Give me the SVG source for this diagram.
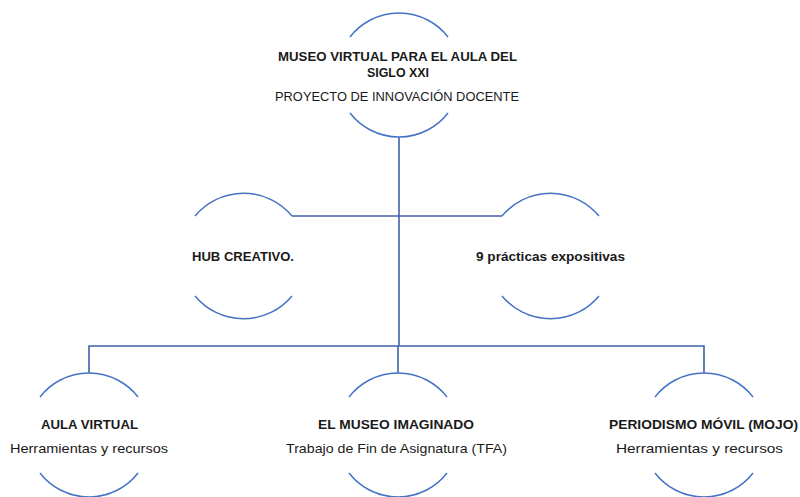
<svg xmlns="http://www.w3.org/2000/svg" width="800" height="497" viewBox="0 0 800 497">
<style>
  .arc { fill: none; stroke: #4472C4; stroke-width: 1.5; }
  .conn { fill: none; stroke: #3F62A8; stroke-width: 1.6; }
  text { font-family: "Liberation Sans", Arial, sans-serif; font-size: 13px; fill: #1a1a1a; text-anchor: middle; }
  .b { font-weight: bold; }
</style>
<rect width="800" height="497" fill="#ffffff"/>
<g id="connectors">
  <path class="conn" d="M399,137 V346"/>
  <path class="conn" d="M292,216 H502"/>
  <path class="conn" d="M89,373 V346 H704 V373"/>
  <path class="conn" d="M398,346 V373"/>
</g>
<g id="node-main">
  <path class="arc" d="M350,37 A62,62 0 0 1 448,37"/>
  <path class="arc" d="M350,113 A62,62 0 0 0 448,113"/>
  <text class="b" x="397.5" y="61" textLength="239" lengthAdjust="spacingAndGlyphs">MUSEO VIRTUAL PARA EL AULA DEL</text>
  <text class="b" x="398" y="77" textLength="62" lengthAdjust="spacingAndGlyphs">SIGLO XXI</text>
  <text x="397" y="101" textLength="244" lengthAdjust="spacingAndGlyphs">PROYECTO DE INNOVACIÓN DOCENTE</text>
</g>
<g id="node-hub">
  <path class="arc" d="M195,216 A63,63 0 0 1 292,216"/>
  <path class="arc" d="M195,296 A63,63 0 0 0 292,296"/>
  <text class="b" x="243" y="261" textLength="102" lengthAdjust="spacingAndGlyphs">HUB CREATIVO.</text>
</g>
<g id="node-practicas">
  <path class="arc" d="M502,216 A63,63 0 0 1 599,216"/>
  <path class="arc" d="M502,296 A63,63 0 0 0 599,296"/>
  <text class="b" x="550.5" y="261" textLength="149" lengthAdjust="spacingAndGlyphs">9 prácticas expositivas</text>
</g>
<g id="node-aula">
  <path class="arc" d="M40,397 A62,62 0 0 1 138,397"/>
  <path class="arc" d="M40,473 A62,62 0 0 0 138,473"/>
  <text class="b" x="89.5" y="429" textLength="97" lengthAdjust="spacingAndGlyphs">AULA VIRTUAL</text>
  <text x="89" y="453" textLength="158" lengthAdjust="spacingAndGlyphs">Herramientas y recursos</text>
</g>
<g id="node-museo">
  <path class="arc" d="M349,397 A62,62 0 0 1 447,397"/>
  <path class="arc" d="M349,473 A62,62 0 0 0 447,473"/>
  <text class="b" x="396" y="429" textLength="156" lengthAdjust="spacingAndGlyphs">EL MUSEO IMAGINADO</text>
  <text x="396.5" y="453" textLength="221" lengthAdjust="spacingAndGlyphs">Trabajo de Fin de Asignatura (TFA)</text>
</g>
<g id="node-mojo">
  <path class="arc" d="M655,397 A62,62 0 0 1 753,397"/>
  <path class="arc" d="M655,473 A62,62 0 0 0 753,473"/>
  <text class="b" x="703.5" y="429" textLength="189" lengthAdjust="spacingAndGlyphs">PERIODISMO MÓVIL (MOJO)</text>
  <text x="699.5" y="453" textLength="167" lengthAdjust="spacingAndGlyphs">Herramientas y recursos</text>
</g>
</svg>
